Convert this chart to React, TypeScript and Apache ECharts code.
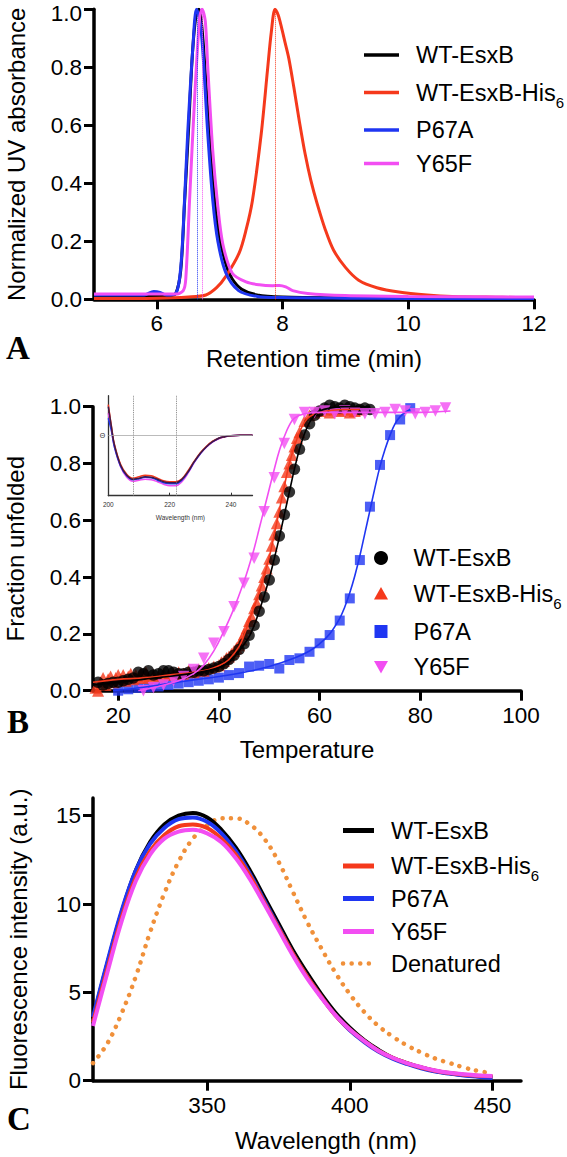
import React, { useEffect, useRef } from 'react';
import * as echarts from 'echarts';

const FONT = '"Liberation Sans", Arial, Helvetica, sans-serif';
const SERIF = '"Liberation Serif", "Times New Roman", serif';

const TICK_FS = 22.5;
const NAME_FS = 24;
const LEG_FS = 23.5;

const C_BLACK = '#000000';
const C_RED = '#f5391c';
const C_BLUE = '#1f36f2';
const C_MAG = '#f24ef2';
const C_ORANGE = '#f0903a';

// ---------- Panel A: size exclusion chromatography ----------
const A_X_TICKS = [6, 8, 10, 12];
const A_WT = [[5, 0.01], [5.5, 0.01], [6, 0.012], [6.2, 0.012], [6.3, 0.02], [6.38, 0.1], [6.44, 0.33], [6.5, 0.57], [6.57, 0.86], [6.63, 0.99], [6.67, 1.0], [6.72, 0.93], [6.78, 0.75], [6.85, 0.52], [6.92, 0.34], [7.0, 0.21], [7.1, 0.12], [7.2, 0.07], [7.35, 0.035], [7.6, 0.015], [8, 0.008], [9, 0.005], [10, 0.004], [12, 0.003]];
const A_HIS = [[5, 0.003], [6, 0.004], [6.5, 0.008], [6.78, 0.015], [6.95, 0.04], [7.1, 0.08], [7.31, 0.16], [7.42, 0.24], [7.52, 0.34], [7.66, 0.57], [7.76, 0.79], [7.82, 0.92], [7.88, 1.0], [7.93, 0.98], [7.98, 0.94], [8.04, 0.885], [8.1, 0.83], [8.18, 0.73], [8.27, 0.61], [8.36, 0.5], [8.45, 0.41], [8.55, 0.33], [8.68, 0.24], [8.81, 0.17], [9.0, 0.11], [9.21, 0.066], [9.5, 0.04], [9.85, 0.025], [10.3, 0.015], [10.7, 0.01], [11.5, 0.007], [12, 0.005]];
const A_P67A = [[5, 0.015], [5.8, 0.015], [5.95, 0.027], [6.05, 0.024], [6.15, 0.015], [6.3, 0.02], [6.38, 0.11], [6.44, 0.34], [6.49, 0.57], [6.57, 0.86], [6.63, 1.0], [6.68, 0.97], [6.73, 0.86], [6.81, 0.57], [6.89, 0.34], [6.97, 0.2], [7.1, 0.09], [7.3, 0.03], [7.6, 0.01], [8, 0.006], [9, 0.004], [10, 0.003], [12, 0.003]];
const A_Y65F = [[5, 0.018], [6.3, 0.018], [6.42, 0.03], [6.46, 0.07], [6.52, 0.34], [6.6, 0.69], [6.68, 0.97], [6.72, 1.0], [6.77, 0.96], [6.81, 0.8], [6.89, 0.51], [6.97, 0.32], [7.05, 0.19], [7.2, 0.09], [7.42, 0.06], [7.63, 0.05], [7.84, 0.047], [7.95, 0.048], [8.05, 0.043], [8.16, 0.03], [8.4, 0.02], [9, 0.013], [10, 0.01], [12, 0.008]];
const A_PEAK_P67A = 6.65;
const A_PEAK_Y65F = 6.72;
const A_PEAK_HIS = 7.88;

// ---------- Panel B: thermal unfolding ----------
const B_X_TICKS = [20, 40, 60, 80, 100];
const B_WT_PTS = [[16, 0.03], [17, 0.02], [18, 0.025], [19, 0.03], [20, 0.03], [21, 0.035], [22, 0.04], [23, 0.045], [24, 0.065], [25, 0.06], [26, 0.07], [27, 0.055], [28, 0.06], [29, 0.07], [30, 0.07], [31, 0.065], [32, 0.06], [33, 0.06], [34, 0.065], [35, 0.065], [36, 0.07], [37, 0.07], [38, 0.075], [39, 0.08], [40, 0.085], [41, 0.095], [42, 0.11], [43, 0.125], [44, 0.145], [45, 0.165], [46, 0.195], [47, 0.23], [48, 0.28], [49, 0.33], [50, 0.39], [51, 0.46], [52, 0.545], [53, 0.62], [54, 0.7], [55, 0.78], [56, 0.85], [57, 0.9], [58, 0.94], [59, 0.97], [60, 0.985], [61, 0.995], [62, 1.005], [63, 1.0], [64, 0.995], [65, 1.005], [66, 1.0], [67, 0.995], [68, 0.99], [69, 0.995], [70, 0.99]];
const B_WT_FIT = [[15, 0.02], [20, 0.03], [25, 0.04], [30, 0.05], [35, 0.062], [38, 0.072], [40, 0.082], [42, 0.1], [44, 0.14], [46, 0.19], [47, 0.23], [48, 0.28], [49, 0.335], [50, 0.395], [51, 0.465], [52, 0.54], [53, 0.62], [54, 0.7], [55, 0.78], [56, 0.85], [57, 0.905], [58, 0.945], [59, 0.97], [60, 0.985], [62, 0.995], [65, 1.0], [70, 1.0]];
const B_HIS_PTS = [[15.5, 0.01], [16, 0.0], [16.5, 0.03], [17, 0.045], [17.5, 0.02], [18, 0.04], [18.5, 0.05], [19, 0.03], [19.5, 0.045], [20, 0.055], [20.5, 0.04], [21, 0.055], [21.5, 0.035], [22, 0.05], [22.5, 0.06], [23, 0.04], [23.5, 0.055], [24, 0.045], [24.5, 0.06], [25, 0.05], [25.5, 0.065], [26, 0.045], [27, 0.055], [28, 0.05], [29, 0.06], [30, 0.055], [31, 0.06], [32, 0.065], [33, 0.06], [34, 0.07], [35, 0.065], [36, 0.075], [37, 0.07], [38, 0.08], [39, 0.085], [40, 0.09], [40.5, 0.1], [41, 0.105], [41.5, 0.115], [42, 0.12], [42.5, 0.13], [43, 0.14], [43.5, 0.15], [44, 0.16], [44.5, 0.18], [45, 0.2], [45.5, 0.22], [46, 0.245], [46.5, 0.26], [47, 0.29], [47.5, 0.31], [48, 0.34], [48.5, 0.37], [49, 0.4], [49.5, 0.43], [50, 0.465], [50.5, 0.51], [51, 0.55], [51.5, 0.59], [52, 0.63], [52.5, 0.68], [53, 0.72], [53.5, 0.77], [54, 0.8], [54.5, 0.83], [55, 0.86], [55.5, 0.89], [56, 0.91], [57, 0.95], [58, 0.97], [59, 0.98], [60, 0.985], [61, 0.99], [62, 0.98], [63, 0.99], [64, 0.985], [65, 0.99], [66, 0.98], [67, 0.985], [68, 0.99]];
const B_HIS_FIT = [[15, 0.03], [20, 0.04], [25, 0.045], [30, 0.055], [35, 0.065], [38, 0.075], [40, 0.088], [42, 0.11], [44, 0.155], [45, 0.195], [46, 0.245], [47, 0.295], [48, 0.345], [49, 0.405], [50, 0.47], [51, 0.55], [52, 0.635], [53, 0.72], [54, 0.8], [55, 0.86], [56, 0.91], [57, 0.945], [58, 0.965], [60, 0.98], [65, 0.99], [68, 0.99]];
const B_P67A_PTS = [[20, 0.0], [22, 0.005], [24, 0.01], [26, 0.012], [28, 0.015], [30, 0.02], [32, 0.025], [34, 0.03], [36, 0.035], [38, 0.04], [40, 0.046], [42, 0.055], [44, 0.062], [46, 0.085], [48, 0.088], [50, 0.094], [52, 0.078], [54, 0.108], [56, 0.114], [58, 0.137], [60, 0.167], [62, 0.196], [64, 0.247], [66, 0.325], [68, 0.46], [70, 0.648], [72, 0.795], [74, 0.9], [76, 0.955], [78, 0.995]];
const B_P67A_FIT = [[19, 0.0], [25, 0.012], [30, 0.025], [35, 0.038], [40, 0.05], [45, 0.065], [50, 0.085], [55, 0.115], [58, 0.14], [60, 0.165], [62, 0.2], [64, 0.255], [65, 0.295], [66, 0.345], [67, 0.405], [68, 0.475], [69, 0.555], [70, 0.635], [71, 0.715], [72, 0.79], [73, 0.85], [74, 0.9], [75, 0.94], [76, 0.965], [77, 0.98], [78, 0.99]];
const B_Y65F_PTS = [[25, 0.0], [27, 0.01], [29, 0.02], [31, 0.035], [33, 0.05], [35, 0.075], [37, 0.114], [39, 0.167], [41, 0.208], [43, 0.296], [45, 0.378], [47, 0.466], [49, 0.63], [51, 0.75], [53, 0.87], [55, 0.955], [57, 0.98], [59, 0.98], [61, 0.985], [63, 0.975], [65, 0.985], [67, 0.98], [69, 0.975], [71, 0.975], [73, 0.98], [75, 0.99], [77, 0.985], [79, 0.975], [81, 0.98], [83, 0.985], [85, 0.995]];
const B_Y65F_FIT = [[24, 0.0], [28, 0.015], [32, 0.035], [35, 0.06], [37, 0.09], [39, 0.14], [41, 0.21], [43, 0.29], [45, 0.385], [46, 0.44], [47, 0.5], [48, 0.57], [49, 0.64], [50, 0.71], [51, 0.78], [52, 0.845], [53, 0.895], [54, 0.935], [55, 0.96], [57, 0.975], [60, 0.98], [70, 0.98], [80, 0.98], [86, 0.985]];

// inset: CD spectra
const CD_X_TICKS = [200, 220, 240];
const CD_MARKS = [208, 222];
const CD_WT = [[200, 5.8], [201, 1.8], [202, -1.9], [204, -5.9], [206, -7.9], [208, -8.7], [210, -8.5], [212, -8.2], [214, -8.3], [216, -8.7], [218, -9.2], [220, -9.4], [222, -9.4], [224, -8.7], [226, -7.2], [228, -5.2], [230, -3.5], [232, -2.2], [234, -1.2], [236, -0.5], [238, -0.2], [240, 0], [243, 0.1], [247, 0.1]];
const CD_HIS = [[200, 6.2], [201, 2.0], [202, -1.7], [204, -5.7], [206, -7.7], [208, -8.5], [210, -8.2], [212, -7.9], [214, -8.0], [216, -8.5], [218, -9.0], [220, -9.2], [222, -9.2], [224, -8.6], [226, -7.0], [228, -5.1], [230, -3.4], [232, -2.1], [234, -1.1], [236, -0.5], [238, -0.2], [240, 0], [243, 0.1], [247, 0.1]];
const CD_P67A = [[200, 3.5], [201, 1.0], [202, -2.3], [204, -6.1], [206, -8.0], [208, -8.8], [210, -8.6], [212, -8.3], [214, -8.4], [216, -8.9], [218, -9.4], [220, -9.6], [222, -9.6], [224, -8.9], [226, -7.3], [228, -5.3], [230, -3.6], [232, -2.2], [234, -1.2], [236, -0.5], [238, -0.2], [240, 0], [243, 0.1], [247, 0.1]];
const CD_Y65F = [[200, 4.5], [201, 1.2], [202, -2.2], [204, -6.2], [206, -8.3], [208, -9.1], [210, -8.9], [212, -8.7], [214, -8.8], [216, -9.2], [218, -9.7], [220, -10.0], [222, -10.0], [224, -9.2], [226, -7.5], [228, -5.4], [230, -3.6], [232, -2.3], [234, -1.3], [236, -0.6], [238, -0.2], [240, 0], [243, 0.1], [247, 0.1]];

// ---------- Panel C: intrinsic fluorescence ----------
const C_X_TICKS = [350, 400, 450];
const C_Y_TICKS = [0, 5, 10, 15];
const C_WL = [310, 315, 320, 325, 330, 335, 340, 345, 350, 355, 360, 365, 370, 375, 380, 385, 390, 395, 400, 405, 410, 415, 420, 425, 430, 435, 440, 445, 450];
const C_WT = [3.5, 6.6, 9.5, 11.9, 13.5, 14.5, 15.0, 15.15, 14.9, 14.2, 13.2, 11.9, 10.4, 8.9, 7.4, 6.1, 4.9, 3.85, 3.0, 2.3, 1.75, 1.3, 1.0, 0.75, 0.55, 0.42, 0.32, 0.25, 0.2];
const C_HIS = [3.3, 6.3, 9.2, 11.5, 13.0, 13.9, 14.4, 14.5, 14.3, 13.7, 12.8, 11.6, 10.1, 8.65, 7.2, 5.9, 4.75, 3.7, 2.9, 2.25, 1.7, 1.3, 1.0, 0.75, 0.56, 0.43, 0.34, 0.28, 0.25];
const C_P67A = [3.6, 6.7, 9.6, 11.9, 13.4, 14.3, 14.8, 14.9, 14.65, 14.0, 13.0, 11.7, 10.2, 8.7, 7.2, 5.9, 4.75, 3.7, 2.85, 2.2, 1.65, 1.25, 0.95, 0.7, 0.52, 0.4, 0.3, 0.22, 0.15];
const C_Y65F = [3.1, 6.1, 9.0, 11.3, 12.8, 13.7, 14.1, 14.2, 14.0, 13.5, 12.6, 11.4, 10.0, 8.55, 7.1, 5.8, 4.7, 3.7, 2.9, 2.25, 1.7, 1.3, 1.0, 0.77, 0.58, 0.45, 0.36, 0.3, 0.27];
const C_DEN = [1.0, 2.1, 3.8, 5.9, 8.4, 10.6, 12.4, 13.7, 14.45, 14.85, 14.85, 14.5, 13.7, 12.4, 10.7, 9.0, 7.5, 6.1, 4.9, 3.9, 3.1, 2.5, 2.0, 1.6, 1.25, 1.0, 0.75, 0.55, 0.42];

const NAMES = ['WT-EsxB', 'WT-EsxB-His6', 'P67A', 'Y65F'];
const COLORS = [C_BLACK, C_RED, C_BLUE, C_MAG];

const zip = (xs: number[], ys: number[]) => xs.map((x, i) => [x, ys[i]]);

const tickStyle = (customValues?: number[]) => ({
  show: true, length: 10, lineStyle: { color: '#000', width: 3 }, ...(customValues ? { customValues } : {}),
});
const labelStyle = (margin: number, extra: any = {}) => ({
  color: '#000', fontSize: TICK_FS, fontFamily: FONT, margin, ...extra,
});

function axisStyle(extra: any) {
  return {
    type: 'value',
    axisLine: { show: true, onZero: false, lineStyle: { color: '#000', width: 3.5 } },
    axisTick: tickStyle(),
    axisLabel: labelStyle(12),
    splitLine: { show: false },
    nameLocation: 'middle',
    nameTextStyle: { color: '#000', fontSize: NAME_FS, fontFamily: FONT },
    nameMoveOverlap: false,
    ...extra,
  };
}

function labelText(x: number, y: number, name: string) {
  const isSub = name.endsWith('His6');
  return {
    type: 'text',
    x,
    y,
    z: 100,
    style: {
      text: isSub ? 'WT-EsxB-His{s|6}' : name,
      fill: '#000',
      fontSize: LEG_FS,
      fontFamily: FONT,
      align: 'left',
      verticalAlign: 'middle',
      rich: isSub ? { s: { fontSize: 15, fontFamily: FONT, fill: '#000', padding: [19, 0, 0, 0] } } : undefined,
    },
  };
}

function lineLegend(x1: number, x2: number, tx: number, rows: number[], names: string[], colors: string[], width: number, dotted?: boolean[]) {
  const els: any[] = [];
  rows.forEach((y, i) => {
    els.push({
      type: 'line',
      z: 100,
      shape: { x1, y1: y, x2, y2: y },
      style: dotted && dotted[i]
        ? { stroke: colors[i], lineWidth: 4.5, lineDash: [0.1, 8.5], lineCap: 'round' }
        : { stroke: colors[i], lineWidth: width },
    });
    els.push(labelText(tx, y, names[i]));
  });
  return els;
}

function symbolLegend(cx: number, tx: number, rows: number[]) {
  const els: any[] = [];
  const s = 7;
  rows.forEach((y, i) => {
    let shape: any;
    if (i === 0) shape = { type: 'circle', shape: { cx, cy: y, r: s } };
    else if (i === 1) shape = { type: 'polygon', shape: { points: [[cx, y - s], [cx + s, y + s * 0.8], [cx - s, y + s * 0.8]] } };
    else if (i === 2) shape = { type: 'rect', shape: { x: cx - s + 0.5, y: y - s + 0.5, width: 2 * s - 1, height: 2 * s - 1 } };
    else shape = { type: 'polygon', shape: { points: [[cx - s, y - s * 0.8], [cx + s, y - s * 0.8], [cx, y + s]] } };
    els.push({ ...shape, z: 100, style: { fill: COLORS[i] } });
    els.push(labelText(tx, y, NAMES[i]));
  });
  return els;
}

function panelLetter(x: number, y: number, t: string) {
  return {
    type: 'text',
    x,
    y,
    z: 100,
    style: { text: t, fill: '#000', fontSize: 33, fontWeight: 'bold', fontFamily: SERIF, align: 'center', verticalAlign: 'middle' },
  };
}

function buildOption() {
  const peakLine = (x: number, color: string) => ({
    symbol: ['none', 'none'],
    silent: true,
    label: { show: false },
    lineStyle: { type: 'dotted', width: 1, color },
    data: [[{ coord: [x, 0] }, { coord: [x, 1] }]],
  });

  const aLine = (data: number[][], color: string, mark?: any) => ({
    type: 'line', xAxisIndex: 0, yAxisIndex: 0, data, symbol: 'none', smooth: 0.3,
    lineStyle: { color, width: 3 }, markLine: mark,
  });

  const bPts = (data: number[][], color: string, symbol: string, size: number, rotate = 0) => ({
    type: 'scatter', xAxisIndex: 1, yAxisIndex: 1, data, symbol, symbolSize: size, symbolRotate: rotate,
    itemStyle: { color }, clip: false,
  });
  const bFit = (data: number[][], color: string) => ({
    type: 'line', xAxisIndex: 1, yAxisIndex: 1, data, symbol: 'none', smooth: 0.4,
    lineStyle: { color, width: 1.6 }, z: 3,
  });
  const cdLine = (data: number[][], color: string, mark?: any) => ({
    type: 'line', xAxisIndex: 2, yAxisIndex: 2, data, symbol: 'none', smooth: 0.4,
    lineStyle: { color, width: 1.5 }, markLine: mark,
  });
  const cLine = (ys: number[], color: string, style?: any) => ({
    type: 'line', xAxisIndex: 3, yAxisIndex: 3, data: zip(C_WL, ys), symbol: 'none', smooth: 0.4,
    lineStyle: style || { color, width: 4 },
  });

  const fmt1 = (v: number) => v.toFixed(1);
  // top label of panel A is nudged down a little so that it stays inside the page
  const fmtTop = (v: number) => (v >= 1 ? `{t|${v.toFixed(1)}}` : v.toFixed(1));

  return {
    animation: false,
    backgroundColor: '#ffffff',
    textStyle: { fontFamily: FONT },
    grid: [
      { left: 94, top: 9.3, width: 440, height: 290, outerBoundsMode: 'none', containLabel: false },
      { left: 93, top: 406.7, width: 428, height: 284, outerBoundsMode: 'none', containLabel: false },
      { left: 108.3, top: 395.7, width: 144.2, height: 100, outerBoundsMode: 'none', containLabel: false },
      { left: 93, top: 798, width: 428, height: 282.7, outerBoundsMode: 'none', containLabel: false },
    ],
    xAxis: [
      axisStyle({
        gridIndex: 0, min: 5, max: 12, name: 'Retention time (min)', nameGap: 47,
        axisTick: tickStyle(A_X_TICKS),
        axisLabel: labelStyle(13, { customValues: A_X_TICKS }),
      }),
      axisStyle({
        gridIndex: 1, min: 15, max: 100, name: 'Temperature', nameGap: 47,
        axisTick: tickStyle(B_X_TICKS),
        axisLabel: labelStyle(13, { customValues: B_X_TICKS }),
      }),
      {
        type: 'value', gridIndex: 2, min: 200, max: 247,
        axisLine: { show: true, onZero: false, lineStyle: { color: '#333', width: 1.3 } },
        axisTick: { show: true, inside: true, length: 3, lineStyle: { color: '#333', width: 1 }, customValues: CD_X_TICKS },
        axisLabel: { color: '#333', fontSize: 6.5, fontFamily: FONT, margin: 5, customValues: CD_X_TICKS },
        splitLine: { show: false },
        name: 'Wavelength (nm)', nameLocation: 'middle', nameGap: 18,
        nameTextStyle: { color: '#333', fontSize: 6.5, fontFamily: FONT },
      },
      axisStyle({
        gridIndex: 3, min: 310, max: 460, name: 'Wavelength (nm)', nameGap: 48,
        nameTextStyle: { color: '#000', fontSize: NAME_FS, fontFamily: FONT, padding: [0, 0, 0, 38] },
        axisTick: tickStyle(C_X_TICKS),
        axisLabel: labelStyle(13, { customValues: C_X_TICKS }),
      }),
    ],
    yAxis: [
      axisStyle({
        gridIndex: 0, min: 0, max: 1, interval: 0.2, name: 'Normalized UV absorbance', nameGap: 66,
        axisLabel: labelStyle(12, {
          formatter: fmtTop,
          rich: { t: { fontSize: TICK_FS, fontFamily: FONT, color: '#000', padding: [8, 0, 0, 0] } },
        }),
      }),
      axisStyle({
        gridIndex: 1, min: 0, max: 1, interval: 0.2, name: 'Fraction unfolded', nameGap: 66,
        axisLabel: labelStyle(12, { formatter: fmt1 }),
      }),
      {
        type: 'value', gridIndex: 2, min: -12, max: 8,
        axisLine: { show: true, onZero: false, lineStyle: { color: '#333', width: 1.3 } },
        axisTick: { show: false },
        axisLabel: { show: true, color: '#333', fontSize: 7, fontFamily: FONT, margin: 3, customValues: [0], formatter: () => 'Θ' },
        splitLine: { show: false },
      },
      axisStyle({
        gridIndex: 3, min: 0, max: 16, name: 'Fluorescence intensity (a.u.)', nameGap: 63,
        axisTick: tickStyle(C_Y_TICKS),
        axisLabel: labelStyle(12, { customValues: C_Y_TICKS }),
      }),
    ],
    series: [
      // Panel A
      aLine(A_WT, C_BLACK),
      aLine(A_HIS, C_RED, peakLine(A_PEAK_HIS, C_RED)),
      aLine(A_P67A, C_BLUE, peakLine(A_PEAK_P67A, C_BLUE)),
      aLine(A_Y65F, C_MAG, peakLine(A_PEAK_Y65F, C_MAG)),
      // Panel B
      bPts(B_P67A_PTS, C_BLUE, 'rect', 10),
      bFit(B_P67A_FIT, C_BLUE),
      bPts(B_HIS_PTS, C_RED, 'triangle', 12),
      bFit(B_HIS_FIT, C_RED),
      bPts(B_WT_PTS, C_BLACK, 'circle', 11.5),
      bFit(B_WT_FIT, C_BLACK),
      bPts(B_Y65F_PTS, C_MAG, 'triangle', 11.5, 180),
      bFit(B_Y65F_FIT, C_MAG),
      // inset
      cdLine(CD_Y65F, C_MAG, {
        symbol: ['none', 'none'], silent: true, label: { show: false },
        data: [
          { xAxis: CD_MARKS[0], lineStyle: { type: 'dotted', color: '#777', width: 0.9 } },
          { xAxis: CD_MARKS[1], lineStyle: { type: 'dotted', color: '#777', width: 0.9 } },
          { yAxis: 0, lineStyle: { type: 'solid', color: '#aaa', width: 0.8 } },
        ],
      }),
      cdLine(CD_P67A, C_BLUE),
      cdLine(CD_HIS, C_RED),
      cdLine(CD_WT, '#3a1a4a'),
      // Panel C
      cLine(C_DEN, C_ORANGE, { color: C_ORANGE, width: 4.5, type: [0.1, 8.5], cap: 'round' }),
      cLine(C_WT, C_BLACK),
      cLine(C_P67A, C_BLUE),
      cLine(C_HIS, C_RED),
      cLine(C_Y65F, C_MAG),
    ],
    graphic: [
      ...lineLegend(364, 399, 416, [55, 92.5, 130, 163.5], NAMES, COLORS, 3.5),
      ...symbolLegend(381, 413.5, [558, 594, 631.5, 666.5]),
      ...lineLegend(343, 374, 391, [830.5, 866, 898.5, 931.5, 963.5], [...NAMES, 'Denatured'], [...COLORS, C_ORANGE], 5, [false, false, false, false, true]),
      panelLetter(18, 348, 'A'),
      panelLetter(18, 722, 'B'),
      panelLetter(19, 1119, 'C'),
    ],
  };
}

export default function App() {
  const ref = useRef<HTMLDivElement>(null);
  useEffect(() => {
    document.body.style.margin = '0';
    const chart = echarts.init(ref.current as HTMLDivElement, null, { renderer: 'svg' });
    chart.setOption(buildOption() as any);
    return () => chart.dispose();
  }, []);
  return <div ref={ref} style={{ width: 567, height: 1157 }} />;
}
